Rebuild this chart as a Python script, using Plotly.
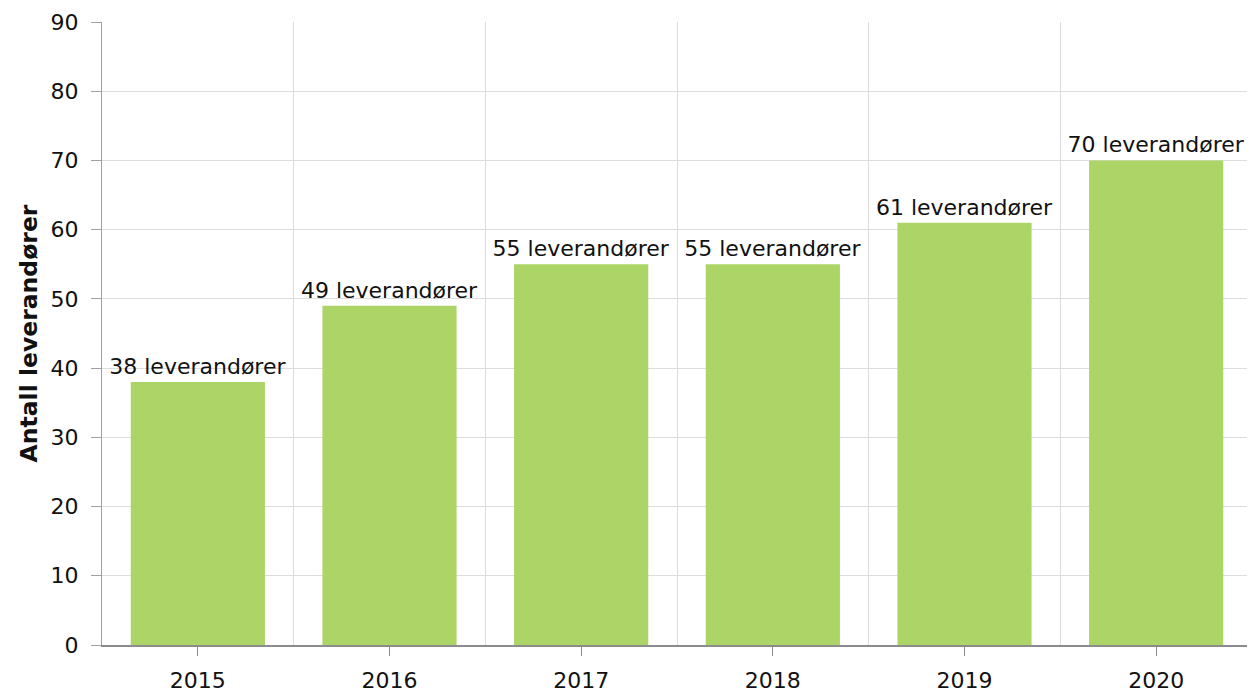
import plotly.graph_objects as go

years = ["2015", "2016", "2017", "2018", "2019", "2020"]
values = [38, 49, 55, 55, 61, 70]
labels = [f"{v} leverandører" for v in values]

xpos = list(range(len(years)))

fig = go.Figure(go.Bar(
    x=xpos, y=values, text=labels, textposition="outside",
    constraintext="none",
    textfont=dict(family="DejaVu Sans", size=22, color="#111111"),
    marker=dict(color="#acd466", line=dict(width=0)),
    cliponaxis=False,
))

fig.update_layout(
    width=1255, height=693,
    margin=dict(l=94, r=11, t=14, b=56, autoexpand=False),
    paper_bgcolor="white", plot_bgcolor="white",
    font=dict(family="DejaVu Sans", size=22, color="#111111"),
    bargap=0.3,
    showlegend=False,
)

fig.update_xaxes(
    range=[-0.5, 5.5], tickvals=xpos, ticktext=years,
    showgrid=False, zeroline=False, automargin=False,
    showline=True, linecolor="#8c8c8c", linewidth=2,
    ticks="outside", ticklen=9, tickcolor="#8c8c8c", tickwidth=1,
    ticklabelstandoff=6,
    minor=dict(tickvals=[0.5, 1.5, 2.5, 3.5, 4.5, 5.5], showgrid=True,
               gridcolor="#dddddd", gridwidth=1, ticklen=0),
    tickfont=dict(size=22),
)

fig.update_yaxes(
    range=[0, 90], dtick=10, tick0=0,
    showgrid=True, gridcolor="#dddddd", gridwidth=1,
    zeroline=False, automargin=False,
    showline=True, linecolor="#a0a0a0", linewidth=1,
    ticks="outside", ticklen=10, tickcolor="#a0a0a0",
    ticklabelstandoff=8,
    tickfont=dict(size=22),
    title=dict(text="<b>Antall leverandører</b>", font=dict(size=23.5), standoff=6),
)

fig.write_html("out.html")
